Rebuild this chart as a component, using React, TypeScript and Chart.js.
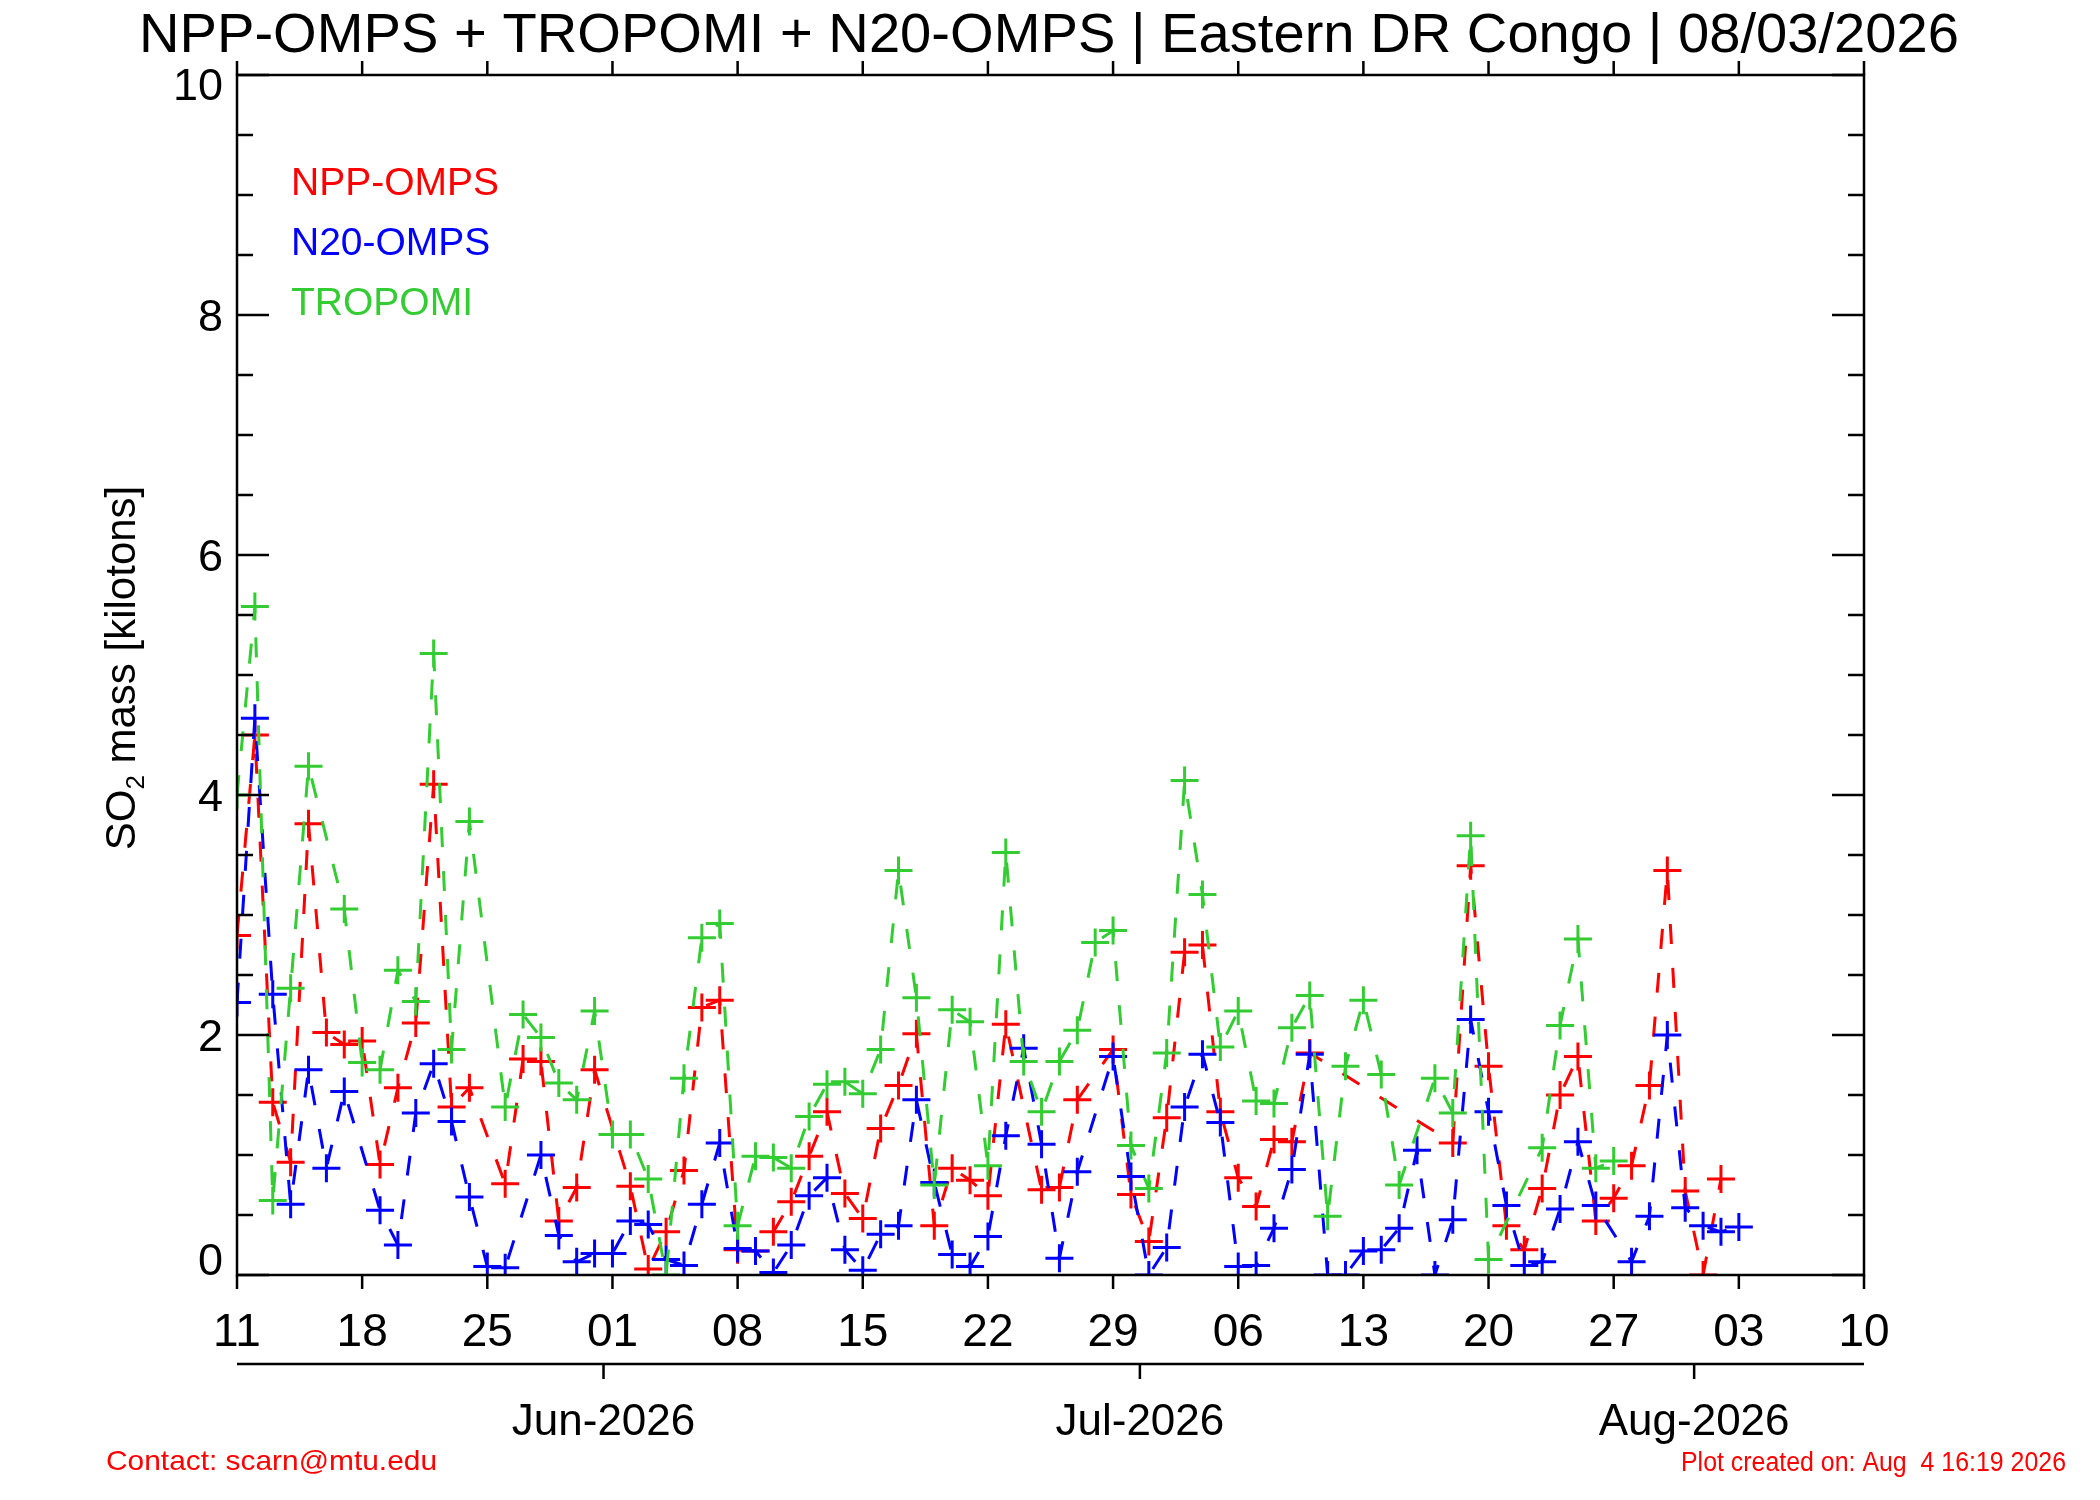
import React, { useEffect, useRef } from 'react';
import { Chart, registerables } from 'chart.js';

Chart.register(...registerables);

// Day index 0 = 11 May 2026
const TITLE = 'NPP-OMPS + TROPOMI + N20-OMPS | Eastern DR Congo | 08/03/2026';
const TOTAL_DAYS = 91;

const nppOmps: (number | null)[] = [
  2.83, 4.5, 1.44, 0.94, 3.76, 2.02, 1.92, 1.95, 0.92, 1.56,
  2.1, 4.09, 1.4, 1.56, null, 0.76, 1.8, 1.78, 0.45, 0.73,
  1.71, null, 0.74, 0.05, 0.36, 0.87, 2.23, 2.29, 0.21, 0.2,
  0.36, 0.61, 0.99, 1.36, 0.68, 0.47, 1.22, 1.58, 2.01, 0.41,
  0.89, 0.79, 0.66, 2.09, null, 0.71, 0.73, 1.46, null, 1.88,
  0.67, 0.28, 1.31, 2.69, 2.75, 1.36, 0.81, 0.57, 1.13, 1.11,
  1.85, null, null, null, null, null, null, null, 1.1, 3.41,
  1.74, 0.41, 0.21, 0.72, 1.5, 1.82, 0.45, 0.64, 0.91, 1.58,
  3.37, 0.7, 0.0, 0.8,
];

const n20Omps: (number | null)[] = [
  2.27, 4.64, 2.34, 0.59, 1.71, 0.89, 1.53, null, 0.54, 0.25,
  1.35, 1.76, 1.28, 0.65, 0.07, 0.06, null, 1.0, 0.33, 0.11,
  0.18, 0.18, 0.45, 0.42, 0.13, 0.08, 0.59, 1.1, 0.22, 0.2,
  0.02, 0.25, 0.66, 0.81, 0.21, 0.04, 0.34, 0.41, 1.46, 0.77,
  0.17, 0.07, 0.32, 1.16, 1.89, 1.09, 0.14, 0.86, null, 1.82,
  0.82, 0.0, 0.23, 1.4, 1.84, 1.27, 0.07, 0.08, 0.39, 0.88,
  1.84, 0.0, 0.0, 0.2, 0.21, 0.39, 1.04, 0.0, 0.46, 2.13,
  1.36, 0.58, 0.08, 0.11, 0.55, 1.11, 0.58, null, 0.11, 0.49,
  2.0, 0.56, 0.41, 0.36, 0.4,
];

const tropomi: (number | null)[] = [
  4.0, 5.57, 0.62, 2.39, 4.24, null, 3.05, 1.77, 1.71, 2.54,
  2.28, 5.18, 1.88, 3.78, null, 1.4, 2.17, 1.98, 1.6, 1.46,
  2.2, 1.17, 1.17, 0.8, 0.0, 1.64, 2.81, 2.93, 0.41, 0.99,
  0.98, 0.89, 1.32, 1.59, 1.61, 1.51, 1.88, 3.37, 2.31, 0.75,
  2.21, 2.11, 0.91, 3.52, 1.78, 1.36, 1.78, 2.04, 2.77, 2.87,
  1.08, 0.72, 1.85, 4.12, 3.17, 1.9, 2.2, 1.45, 1.43, 2.06,
  2.33, 0.49, 1.74, 2.29, 1.67, 0.75, null, 1.64, 1.35, 3.66,
  0.13, null, null, 1.06, 2.08, 2.8, 0.89, 0.95,
];

const dayTickDays = [0, 7, 14, 21, 28, 35, 42, 49, 56, 63, 70, 77, 84, 91];
const dayTickLabels = ['11', '18', '25', '01', '08', '15', '22', '29', '06', '13', '20', '27', '03', '10'];
const monthStartDays = [21, 51, 82];
const monthLabels = ['Jun-2026', 'Jul-2026', 'Aug-2026'];
const yMajorTicks = [0, 2, 4, 6, 8, 10];
const yMinorTicks = [0.5, 1, 1.5, 2.5, 3, 3.5, 4.5, 5, 5.5, 6.5, 7, 7.5, 8.5, 9, 9.5];

const RED = '#ff0000';
const BLUE = '#0000ff';
const GREEN = '#33cc33';
const FONT = '"Liberation Sans", Arial, Helvetica, sans-serif';

function txt(
  ctx: CanvasRenderingContext2D,
  s: string,
  x: number,
  y: number,
  size: number,
  color: string,
  align: 'left' | 'center' | 'right' = 'left',
  fitW?: number
) {
  ctx.save();
  ctx.font = `${size}px ${FONT}`;
  ctx.fillStyle = color;
  ctx.textBaseline = 'alphabetic';
  ctx.textAlign = 'left';
  const w = ctx.measureText(s).width;
  const sx = fitW ? fitW / w : 1;
  const ww = w * sx;
  const x0 = align === 'left' ? x : align === 'center' ? x - ww / 2 : x - ww;
  ctx.translate(x0, y);
  ctx.scale(sx, 1);
  ctx.fillText(s, 0, 0);
  ctx.restore();
}

const toPts = (arr: (number | null)[]) => arr.map((v, i) => ({ x: i, y: v }));

const decorPlugin = {
  id: 'decor',
  beforeDraw(chart: any) {
    const ctx = chart.ctx as CanvasRenderingContext2D;
    ctx.save();
    ctx.fillStyle = '#ffffff';
    ctx.fillRect(0, 0, chart.width, chart.height);
    ctx.restore();
  },
  afterDraw(chart: any) {
    const ctx = chart.ctx as CanvasRenderingContext2D;
    const xs = chart.scales.x;
    const ys = chart.scales.y;
    const { left, right, top, bottom } = chart.chartArea;
    ctx.save();
    ctx.strokeStyle = '#000';
    ctx.lineWidth = 2.5;
    ctx.lineCap = 'butt';
    // box
    ctx.beginPath();
    ctx.rect(left, top, right - left, bottom - top);
    ctx.stroke();
    // y ticks
    ctx.lineWidth = 2.5;
    ctx.beginPath();
    yMajorTicks.forEach((v) => {
      const py = ys.getPixelForValue(v);
      ctx.moveTo(left, py);
      ctx.lineTo(left + 32, py);
      ctx.moveTo(right, py);
      ctx.lineTo(right - 32, py);
    });
    yMinorTicks.forEach((v) => {
      const py = ys.getPixelForValue(v);
      ctx.moveTo(left, py);
      ctx.lineTo(left + 16, py);
      ctx.moveTo(right, py);
      ctx.lineTo(right - 16, py);
    });
    // x ticks (outward)
    dayTickDays.forEach((d) => {
      const px = xs.getPixelForValue(d);
      ctx.moveTo(px, bottom);
      ctx.lineTo(px, bottom + 14);
      ctx.moveTo(px, top);
      ctx.lineTo(px, top - 14);
    });
    ctx.stroke();
    // secondary month axis
    const my = 1364;
    ctx.beginPath();
    ctx.moveTo(left, my);
    ctx.lineTo(right, my);
    monthStartDays.forEach((d) => {
      const px = xs.getPixelForValue(d - 0.5);
      ctx.moveTo(px, my);
      ctx.lineTo(px, my + 15);
    });
    ctx.stroke();
    ctx.restore();

    // y tick labels
    yMajorTicks.forEach((v) => {
      const py = ys.getPixelForValue(v);
      let base = py + 16;
      if (v === 0) base = py;
      if (v === 10) base = py + 25;
      txt(ctx, String(v), 223, base, 45, '#000', 'right');
    });
    // x tick labels
    dayTickDays.forEach((d, i) => {
      const px = xs.getPixelForValue(d);
      txt(ctx, dayTickLabels[i], px, 1346, 46, '#000', 'center');
    });
    // month labels
    monthStartDays.forEach((d, i) => {
      const px = xs.getPixelForValue(d - 0.5);
      txt(ctx, monthLabels[i], px, 1435, 44, '#000', 'center');
    });

    // title
    txt(ctx, TITLE, 139, 52, 56, '#000', 'left', 1820);

    // legend
    txt(ctx, 'NPP-OMPS', 291, 195, 39, RED);
    txt(ctx, 'N20-OMPS', 291, 255, 39, BLUE);
    txt(ctx, 'TROPOMI', 291, 315, 39, GREEN);

    // footer
    txt(ctx, 'Contact: scarn@mtu.edu', 106, 1470, 28, RED, 'left', 331);
    txt(ctx, 'Plot created on: Aug  4 16:19 2026', 2066, 1471, 27, RED, 'right', 385);

    // y title (rotated)
    ctx.save();
    ctx.translate(135, 668);
    ctx.rotate(-Math.PI / 2);
    ctx.fillStyle = '#000';
    ctx.textBaseline = 'alphabetic';
    ctx.textAlign = 'left';
    const big = `42px ${FONT}`;
    const small = `26px ${FONT}`;
    ctx.font = big;
    const w1 = ctx.measureText('SO').width;
    const w3 = ctx.measureText(' mass [kilotons]').width;
    ctx.font = small;
    const w2 = ctx.measureText('2').width;
    const total = w1 + w2 + w3;
    let cx = -total / 2;
    ctx.font = big;
    ctx.fillText('SO', cx, 0);
    cx += w1;
    ctx.font = small;
    ctx.fillText('2', cx, 9);
    cx += w2;
    ctx.font = big;
    ctx.fillText(' mass [kilotons]', cx, 0);
    ctx.restore();
  },
};

function makeDataset(label: string, data: (number | null)[], color: string, order: number) {
  return {
    label,
    data: toPts(data),
    borderColor: color,
    backgroundColor: color,
    borderWidth: 3,
    borderDash: [20, 24],
    pointStyle: 'cross' as const,
    pointRadius: 14,
    pointHoverRadius: 14,
    pointBorderWidth: 3,
    pointBorderColor: color,
    pointBackgroundColor: color,
    spanGaps: true,
    tension: 0,
    fill: false,
    clip: 0,
    order,
  };
}

export default function App() {
  const ref = useRef<HTMLCanvasElement | null>(null);
  useEffect(() => {
    document.body.style.margin = '0';
    const canvas = ref.current;
    if (!canvas) return;
    const chart = new Chart(canvas, {
      type: 'line',
      data: {
        datasets: [
          makeDataset('NPP-OMPS', nppOmps, RED, 3),
          makeDataset('N20-OMPS', n20Omps, BLUE, 2),
          makeDataset('TROPOMI', tropomi, GREEN, 1),
        ],
      },
      options: {
        animation: false,
        responsive: false,
        devicePixelRatio: 1,
        events: [],
        layout: { padding: { left: 237, right: 236, top: 75, bottom: 225 } },
        scales: {
          x: { type: 'linear', min: 0, max: TOTAL_DAYS, display: false },
          y: { type: 'linear', min: 0, max: 10, display: false },
        },
        plugins: {
          legend: { display: false },
          tooltip: { enabled: false },
          title: { display: false },
        },
      },
      plugins: [decorPlugin],
    } as any);
    return () => chart.destroy();
  }, []);
  return (
    <div style={{ position: 'fixed', left: 0, top: 0, width: 2100, height: 1500, background: '#fff' }}>
      <canvas ref={ref} width={2100} height={1500} style={{ width: 2100, height: 1500, display: 'block' }} />
    </div>
  );
}
